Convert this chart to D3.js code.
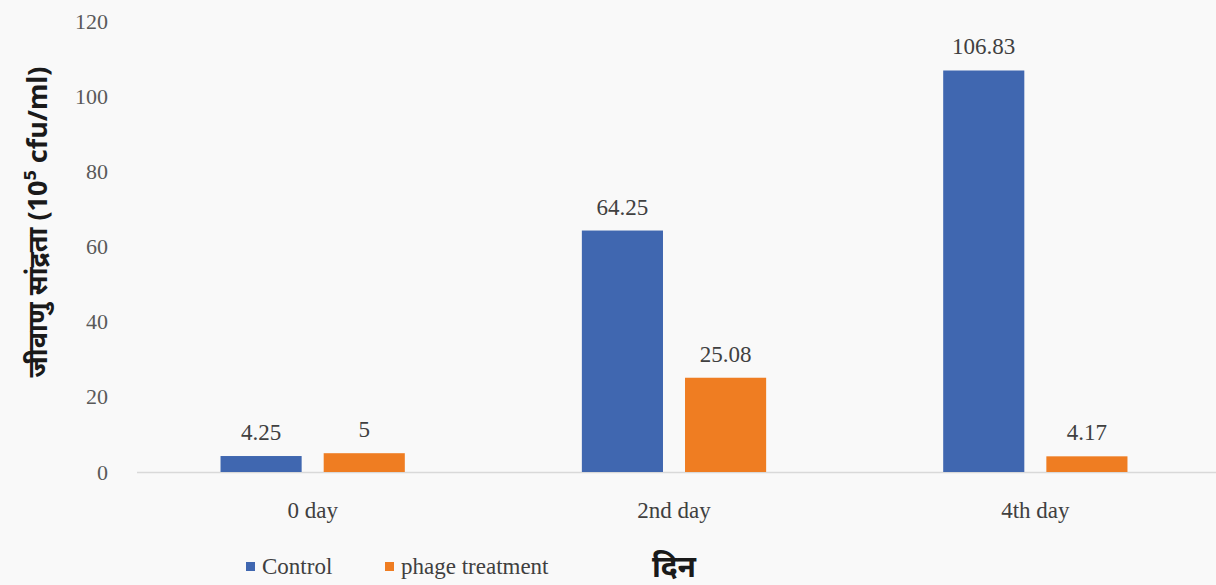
<!DOCTYPE html>
<html>
<head>
<meta charset="utf-8">
<script src="https://cdn.jsdelivr.net/npm/d3@7/dist/d3.min.js"></script>
<style>
  html, body { margin: 0; padding: 0; background: #f9f9f9; }
  svg { display: block; }
</style>
</head>
<body>
<svg id="chart" width="1216" height="585"></svg>
<script>
// Bacterial concentration by day, control vs phage treatment
const categories = ["0 day", "2nd day", "4th day"];
const seriesNames = ["Control", "phage treatment"];
const controlValues = [4.25, 64.25, 106.83];
const phageValues = [5, 25.08, 4.17];
const yTicks = [0, 20, 40, 60, 80, 100, 120];
const colors = ["#4067b0", "#ef7d22"];
const yTitle = "जीवाणु सांद्रता (10⁵ cfu/ml)";
const xTitle = "दिन";

const seriesValues = [controlValues, phageValues];
const rows = categories.map((c, i) => ({
  cat: c,
  vals: seriesNames.map((s, j) => ({ series: s, idx: j, value: seriesValues[j][i] }))
}));

const svg = d3.select("#chart");
const plot = { left: 132, right: 1216, top: 21, bottom: 472 };

const x0 = d3.scaleBand().domain(categories).range([plot.left, plot.right]).paddingInner(0.49).paddingOuter(0.245);
const x1 = d3.scaleBand().domain(seriesNames).range([0, x0.bandwidth()]).paddingInner(0.2136).paddingOuter(0);
const y = d3.scaleLinear().domain([0, 120]).range([plot.bottom, plot.top]);

const serif = "'Liberation Serif', 'Times New Roman', serif";
const devanagari = "'Noto Sans', 'Noto Sans Devanagari', 'Lohit Devanagari', sans-serif";

// y axis tick labels
const yAxis = svg.append("g")
  .attr("transform", `translate(108,0)`)
  .call(d3.axisLeft(y).tickValues(yTicks).tickSize(0).tickPadding(0));
yAxis.select(".domain").remove();
yAxis.selectAll("text")
  .attr("font-family", serif).attr("font-size", 22).attr("fill", "#595959");

// baseline
svg.append("line")
  .attr("x1", 137).attr("x2", 1216)
  .attr("y1", y(0) + 0.5).attr("y2", y(0) + 0.5)
  .attr("stroke", "#d9d9d9").attr("stroke-width", 1.5);

// x axis category labels
const xAxis = svg.append("g")
  .attr("transform", `translate(0,${plot.bottom})`)
  .call(d3.axisBottom(x0).tickSize(0).tickPadding(0));
xAxis.select(".domain").remove();
xAxis.selectAll("text")
  .attr("dy", null).attr("y", 46)
  .attr("font-family", serif).attr("font-size", 23).attr("fill", "#404040");

// bars
const groups = svg.append("g").selectAll("g").data(rows).join("g")
  .attr("transform", d => `translate(${x0(d.cat)},0)`);

groups.selectAll("rect").data(d => d.vals).join("rect")
  .attr("x", d => x1(d.series))
  .attr("y", d => y(d.value))
  .attr("width", x1.bandwidth())
  .attr("height", d => y(0) - y(d.value))
  .attr("fill", d => colors[d.idx]);

// value labels
groups.selectAll("text.val").data(d => d.vals).join("text")
  .attr("class", "val")
  .attr("x", d => x1(d.series) + x1.bandwidth() / 2)
  .attr("y", d => y(d.value) - 16)
  .attr("text-anchor", "middle")
  .attr("font-family", serif).attr("font-size", 23).attr("fill", "#404040")
  .text(d => d.value);

// y axis title
svg.append("text")
  .attr("transform", `translate(47,222) rotate(-90)`)
  .attr("text-anchor", "middle")
  .attr("font-family", devanagari)
  .attr("font-weight", "bold").attr("font-size", 27).attr("fill", "#1a1a1a")
  .text(yTitle);

// legend
const legendItems = [
  { name: seriesNames[0], color: colors[0], x: 246 },
  { name: seriesNames[1], color: colors[1], x: 385 }
];
const lg = svg.append("g").selectAll("g").data(legendItems).join("g")
  .attr("transform", d => `translate(${d.x},574)`);
lg.append("rect").attr("x", 0).attr("y", -12).attr("width", 9).attr("height", 9).attr("fill", d => d.color);
lg.append("text").attr("x", 16).attr("y", 0)
  .attr("font-family", serif).attr("font-size", 23).attr("fill", "#404040")
  .text(d => d.name);

// x axis title
svg.append("text")
  .attr("x", 674).attr("y", 577)
  .attr("text-anchor", "middle")
  .attr("font-family", devanagari)
  .attr("font-weight", "bold").attr("font-size", 30).attr("fill", "#1a1a1a")
  .text(xTitle);
</script>
</body>
</html>
